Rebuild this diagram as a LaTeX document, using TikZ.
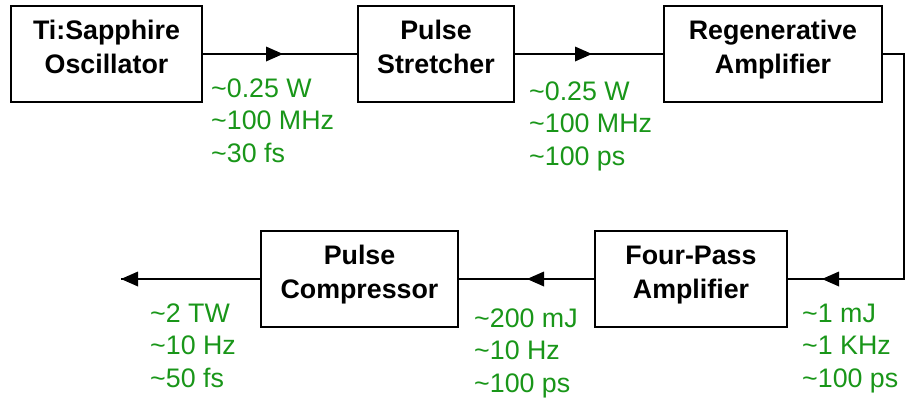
\documentclass[tikz,border=0pt]{standalone}
\usepackage{fontspec}
\setmainfont{Liberation Sans}
\usetikzlibrary{arrows.meta}
\definecolor{specgreen}{RGB}{25,150,25}
\newcommand{\tl}{\textasciitilde}
\begin{document}
\begin{tikzpicture}[x=1pt,y=-1pt,
  box/.style={draw, line width=2.4pt, inner sep=0pt, minimum height=96pt},
  boxtext/.style={anchor=base, inner sep=0pt, font=\fontsize{26.8}{34}\selectfont\bfseries},
  spec/.style={anchor=base west, inner sep=0pt, text=specgreen, font=\fontsize{26.8}{32.5}\selectfont},
  conn/.style={line width=2.4pt},
  headfill/.style={fill=black}]
\useasboundingbox (0,0) rectangle (906,402);
% boxes
\node[box, minimum width=191pt] (osc) at (106.5,54) {};
\node[box, minimum width=156pt] (str) at (436,54) {};
\node[box, minimum width=218pt] (reg) at (773,54) {};
\node[box, minimum width=192pt] (four) at (691,279) {};
\node[box, minimum width=197pt] (comp) at (359.5,279) {};
% box texts
\node[boxtext] (osct) at (106.5,39) {\begin{tabular}[t]{@{}c@{}}Ti:Sapphire\\Oscillator\end{tabular}};
\node[boxtext] (strt) at (436,39) {\begin{tabular}[t]{@{}c@{}}Pulse\\Stretcher\end{tabular}};
\node[boxtext] (regt) at (773,39) {\begin{tabular}[t]{@{}c@{}}Regenerative\\Amplifier\end{tabular}};
\node[boxtext] (fourt) at (691,264) {\begin{tabular}[t]{@{}c@{}}Four-Pass\\Amplifier\end{tabular}};
\node[boxtext] (compt) at (359.5,264) {\begin{tabular}[t]{@{}c@{}}Pulse\\Compressor\end{tabular}};
% arrow tip points
\coordinate (t1) at (283,54);
\coordinate (t2) at (592,54);
\coordinate (corner) at (904,279);
\coordinate (t3) at (822,279);
\coordinate (t4) at (527,279);
\coordinate (out) at (121,279);
% connectors
\draw[conn] (osc.east) -- (str.west);
\draw[conn] (str.east) -- (reg.west);
\draw[conn] (reg.east) -| (corner) -- (four.east);
\draw[conn] (four.west) -- (comp.east);
\draw[conn] (comp.west) -- (out);
% arrowheads
\fill[headfill] (t1) -- ++(-17,-7.5) -- ++(0,15) -- cycle;
\fill[headfill] (t2) -- ++(-17,-7.5) -- ++(0,15) -- cycle;
\fill[headfill] (t3) -- ++(17,-7.5) -- ++(0,15) -- cycle;
\fill[headfill] (t4) -- ++(17,-7.5) -- ++(0,15) -- cycle;
\fill[headfill] (out) -- ++(17,-7.5) -- ++(0,15) -- cycle;
% specs
\node[spec] (s1) at (211,97) {\begin{tabular}[t]{@{}l@{}}\tl 0.25 W\\\tl 100 MHz\\\tl 30 fs\end{tabular}};
\node[spec] (s2) at (529,100) {\begin{tabular}[t]{@{}l@{}}\tl 0.25 W\\\tl 100 MHz\\\tl 100 ps\end{tabular}};
\node[spec] (s3) at (802,322) {\begin{tabular}[t]{@{}l@{}}\tl 1 mJ\\\tl 1 KHz\\\tl 100 ps\end{tabular}};
\node[spec] (s4) at (474,327) {\begin{tabular}[t]{@{}l@{}}\tl 200 mJ\\\tl 10 Hz\\\tl 100 ps\end{tabular}};
\node[spec] (s5) at (150,322) {\begin{tabular}[t]{@{}l@{}}\tl 2 TW\\\tl 10 Hz\\\tl 50 fs\end{tabular}};
\end{tikzpicture}
\end{document}
